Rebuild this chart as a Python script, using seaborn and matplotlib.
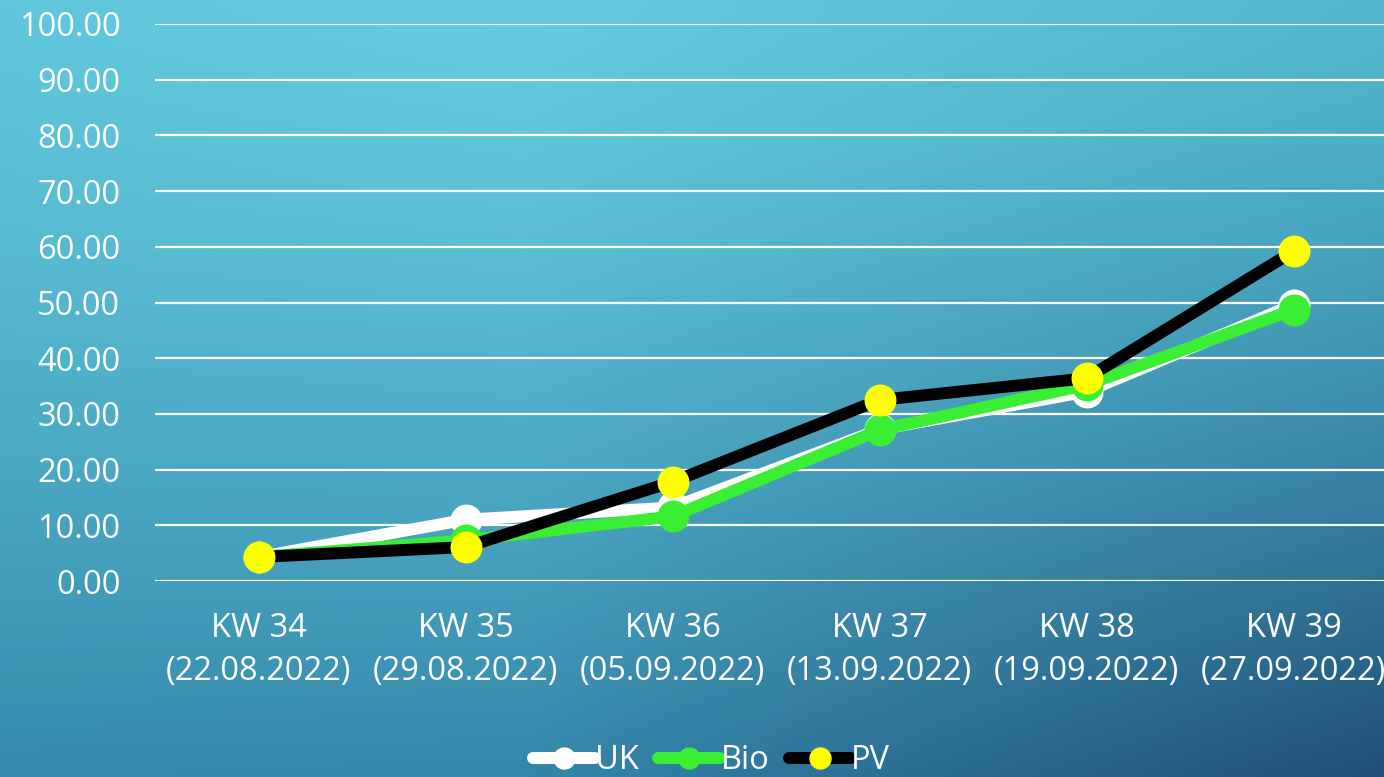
import numpy as np
import pandas as pd
import matplotlib
matplotlib.use("Agg")
import matplotlib.pyplot as plt
import seaborn as sns

# Weekly values per series
weeks = ["KW 34\n(22.08.2022)", "KW 35\n(29.08.2022)", "KW 36\n(05.09.2022)",
         "KW 37\n(13.09.2022)", "KW 38\n(19.09.2022)", "KW 39\n(27.09.2022)"]
uk = [4.3, 11.0, 13.2, 27.2, 34.0, 49.6]
bio = [4.3, 7.3, 11.6, 27.1, 35.2, 48.7]
pv = [4.3, 6.1, 17.8, 32.5, 36.4, 59.2]
yticks = [0, 10, 20, 30, 40, 50, 60, 70, 80, 90, 100]

sns.set_theme(style="white")
plt.rcParams["font.family"] = ["Open Sans", "DejaVu Sans"]
FS = 23.5

fig = plt.figure(figsize=(13.84, 7.77), dpi=100)


def hex_rgb(c):
    c = c.lstrip("#")
    return np.array([int(c[i:i + 2], 16) for i in (0, 2, 4)]) / 255.0


# Background: colour grid interpolated across the figure (light cyan top, deep blue bottom-right)
gx = np.array([0.0, 0.38, 1.0])
top = np.array([hex_rgb(c) for c in ["#5fc6db", "#64cbe0", "#50b7ce"]])
bot = np.array([hex_rgb(c) for c in ["#3489aa", "#3486a9", "#1f4e78"]])
h, w = 300, 600
xs = np.linspace(0, 1, w)
ys = np.linspace(0, 1, h)
top_row = np.stack([np.interp(xs, gx, top[:, k]) for k in range(3)], axis=-1)
bot_row = np.stack([np.interp(xs, gx, bot[:, k]) for k in range(3)], axis=-1)
t = (ys ** 1.4)[:, None, None]
img = top_row[None, :, :] * (1 - t) + bot_row[None, :, :] * t
bg = fig.add_axes([0, 0, 1, 1], zorder=-10)
bg.imshow(img, aspect="auto", extent=[0, 1, 0, 1], origin="upper",
          interpolation="bilinear")
bg.set_axis_off()

ax = fig.add_axes([155 / 1384, 1 - 581 / 777, 1242 / 1384, 557 / 777])
ax.patch.set_alpha(0)

df = pd.DataFrame({"week": weeks * 3,
                   "value": uk + bio + pv,
                   "series": ["UK"] * 6 + ["Bio"] * 6 + ["PV"] * 6})

styles = {
    "UK": dict(color="white", mfc="white"),
    "Bio": dict(color="#3aee33", mfc="#3aee33"),
    "PV": dict(color="black", mfc="#ffff00"),
}
for i, name in enumerate(["UK", "Bio", "PV"]):
    sub = df[df["series"] == name]
    sns.lineplot(data=sub, x="week", y="value", ax=ax, label=name,
                 color=styles[name]["color"], linewidth=8.6,
                 marker="o", markersize=23,
                 markerfacecolor=styles[name]["mfc"], markeredgewidth=0,
                 solid_capstyle="round", zorder=3 + i, sort=False)

ax.set_xlim(-0.5, 5.5)
ax.set_ylim(0, 100)
ax.set_yticks(yticks)
ax.set_yticklabels([f"{v:.2f}" for v in yticks])
ax.set_xlabel("")
ax.set_ylabel("")
ax.grid(axis="y", color="white", linewidth=1.6)
ax.grid(axis="x", visible=False)
for s in ax.spines.values():
    s.set_visible(False)
ax.tick_params(axis="y", length=0, pad=25, labelsize=FS, labelcolor="white")
ax.tick_params(axis="x", length=0, pad=22, labelsize=FS, labelcolor="white")
for lbl in ax.get_xticklabels():
    lbl.set_linespacing(1.42)

leg = ax.get_legend()
if leg is not None:
    leg.remove()
handles, labels = ax.get_legend_handles_labels()
leg = fig.legend(handles, labels, loc="center", bbox_to_anchor=(0.514, 0.021),
                 ncol=3, frameon=False, fontsize=FS, handlelength=1.9,
                 handletextpad=0.0, columnspacing=0.6, markerscale=0.7)
for t_ in leg.get_texts():
    t_.set_color("white")

fig.savefig("out.png", dpi=100)
